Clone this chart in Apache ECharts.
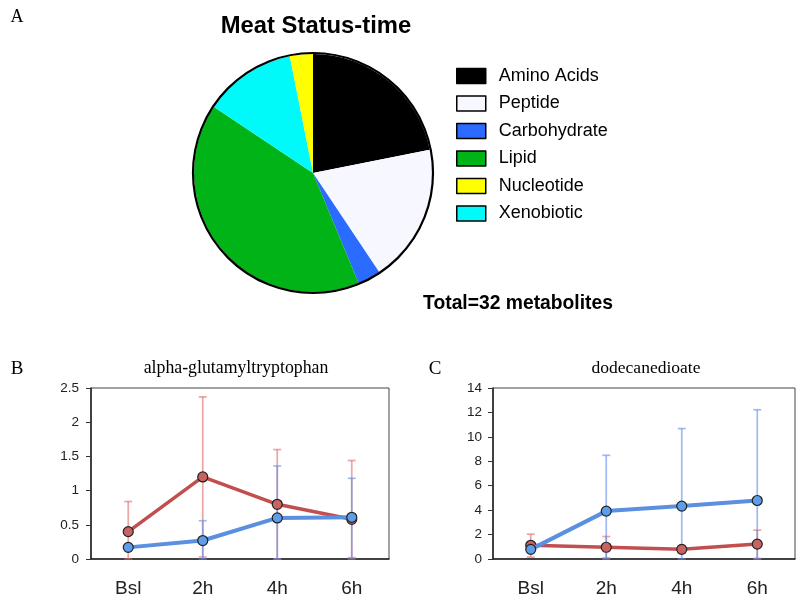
<!DOCTYPE html>
<html>
<head>
<meta charset="utf-8">
<script src="https://cdn.jsdelivr.net/npm/echarts@6/dist/echarts.min.js"></script>
<style>
html,body{margin:0;padding:0;background:#fff;}
#chart{width:800px;height:608px;}
</style>
</head>
<body>
<div id="chart"></div>
<script>
// ---- Data ----
var pieNames = ['Amino Acids', 'Peptide', 'Carbohydrate', 'Lipid', 'Xenobiotic', 'Nucleotide'];
var pieCounts = [7, 6, 1, 13, 4, 1];
var pieColors = ['#000000', '#f7f7ff', '#2b6bff', '#00b418', '#00fafa', '#ffff00'];
var legendOrder = ['Amino Acids', 'Peptide', 'Carbohydrate', 'Lipid', 'Nucleotide', 'Xenobiotic'];
var totalLabel = 'Total=32 metabolites';

var timepoints = ['Bsl', '2h', '4h', '6h'];

var bRed = [0.40, 1.20, 0.80, 0.58];
var bRedHigh = [0.84, 2.37, 1.60, 1.44];
var bRedLow = [0, 0.03, 0, 0];
var bBlue = [0.17, 0.27, 0.60, 0.61];
var bBlueHigh = [0.20, 0.56, 1.36, 1.18];
var bBlueLow = [0.13, 0, 0, 0.02];

var cRed = [1.12, 0.96, 0.79, 1.22];
var cRedHigh = [2.03, 1.84, 1.10, 2.36];
var cRedLow = [0.15, 0.09, 0.50, 0.05];
var cBlue = [0.79, 3.92, 4.33, 4.79];
var cBlueHigh = [1.00, 8.49, 10.68, 12.22];
var cBlueLow = [0.60, 0, 0, 0];

var bTicks = { min: 0, max: 2.5, interval: 0.5 };
var cTicks = { min: 0, max: 14, interval: 2 };

// ---- Chart ----
var RED_LINE = '#c24f4f', RED_FILL = '#c96262', RED_ERR = 'rgba(220,105,105,0.6)';
var BLUE_LINE = '#5b8fe0', BLUE_FILL = '#5e9de8', BLUE_ERR = 'rgba(95,140,235,0.6)';

function errData(low, high) {
  return low.map(function (l, i) { return [i, l, high[i]]; });
}
function errSeries(gi, low, high, color) {
  return {
    type: 'custom', xAxisIndex: gi, yAxisIndex: gi, silent: true, z: 1,
    data: errData(low, high),
    encode: { x: 0, y: [1, 2] },
    renderItem: function (params, api) {
      var lo = api.coord([api.value(0), api.value(1)]);
      var hi = api.coord([api.value(0), api.value(2)]);
      var w = 4;
      var st = { stroke: color, lineWidth: 1.7 };
      return {
        type: 'group',
        children: [
          { type: 'line', shape: { x1: hi[0], y1: hi[1], x2: lo[0], y2: lo[1] }, style: st },
          { type: 'line', shape: { x1: hi[0] - w, y1: hi[1], x2: hi[0] + w, y2: hi[1] }, style: st },
          { type: 'line', shape: { x1: lo[0] - w, y1: lo[1], x2: lo[0] + w, y2: lo[1] }, style: st }
        ]
      };
    }
  };
}
function lineSeries(gi, data, lineColor, fillColor, w, z) {
  return {
    type: 'line', xAxisIndex: gi, yAxisIndex: gi, data: data, z: z,
    symbol: 'circle', symbolSize: 10,
    lineStyle: { color: lineColor, width: w },
    itemStyle: { color: fillColor, borderColor: '#222', borderWidth: 1.2 },
    emphasis: { disabled: true }, animation: false
  };
}
function xAxis(gi) {
  return {
    type: 'category', gridIndex: gi, data: timepoints, boundaryGap: true,
    axisLine: { lineStyle: { color: '#222', width: 1.5 } },
    axisTick: { alignWithLabel: true, length: 5, lineStyle: { color: '#333' } },
    axisLabel: { fontFamily: 'Liberation Sans', fontSize: 19, color: '#222', margin: 20 },
    splitLine: { show: false }
  };
}
function yAxis(gi, t, margin) {
  return {
    type: 'value', gridIndex: gi, min: t.min, max: t.max, interval: t.interval,
    axisLine: { show: true, lineStyle: { color: '#222', width: 1.5 } },
    axisTick: { show: true, length: 5, lineStyle: { color: '#333' } },
    axisLabel: { fontFamily: 'Liberation Sans', fontSize: 13.5, color: '#222', margin: margin },
    splitLine: { show: false }
  };
}
function txt(x, y, text, font, size, weight) {
  return {
    type: 'text', x: x, y: y, silent: true,
    style: { text: text, fontFamily: font, fontSize: size, fontWeight: weight || 'normal',
             fill: '#000', align: 'center', verticalAlign: 'middle' }
  };
}

var chart = echarts.init(document.getElementById('chart'), null, { renderer: 'canvas' });
chart.setOption({
  animation: false,
  backgroundColor: '#fff',
  legend: {
    data: legendOrder, orient: 'vertical', left: 456, top: 67, padding: 0,
    itemWidth: 29, itemHeight: 15, itemGap: 9.5, selectedMode: false,
    icon: 'rect',
    itemStyle: { borderColor: '#000', borderWidth: 1.5 },
    textStyle: { fontFamily: 'Liberation Sans', fontSize: 18, color: '#000', padding: [0, 0, 0, 8] }
  },
  grid: [
    { left: 91, top: 388, width: 298, height: 171, show: true, borderColor: '#444', borderWidth: 1 },
    { left: 493, top: 388, width: 302, height: 171, show: true, borderColor: '#444', borderWidth: 1 }
  ],
  xAxis: [xAxis(0), xAxis(1)],
  yAxis: [yAxis(0, bTicks, 12), yAxis(1, cTicks, 11)],
  graphic: [
    txt(17, 17, 'A', 'Liberation Serif', 18),
    txt(316, 26, 'Meat Status-time', 'Liberation Sans', 23.8, 'bold'),
    txt(518, 304, totalLabel, 'Liberation Sans', 19.3, 'bold'),
    txt(17, 369, 'B', 'Liberation Serif', 19),
    txt(236, 368, 'alpha-glutamyltryptophan', 'Liberation Serif', 17.8),
    txt(435, 369, 'C', 'Liberation Serif', 19),
    txt(646, 368, 'dodecanedioate', 'Liberation Serif', 17.5)
  ],
  series: [
    {
      type: 'pie', center: [313, 173], radius: 119, startAngle: 90, clockwise: true,
      silent: true, label: { show: false }, labelLine: { show: false },
      itemStyle: { borderWidth: 0 },
      data: pieNames.map(function (n, i) {
        return { name: n, value: pieCounts[i], itemStyle: { color: pieColors[i] } };
      })
    },
    {
      type: 'pie', center: [313, 173], radius: 120, silent: true, z: 3,
      label: { show: false }, labelLine: { show: false },
      itemStyle: { color: 'rgba(0,0,0,0)', borderColor: '#000', borderWidth: 2.2 },
      data: [{ name: '__outline', value: pieCounts.reduce(function (a, b) { return a + b; }, 0) }]
    },
    errSeries(0, bRedLow, bRedHigh, RED_ERR),
    errSeries(0, bBlueLow, bBlueHigh, BLUE_ERR),
    lineSeries(0, bRed, RED_LINE, RED_FILL, 3.5, 3),
    lineSeries(0, bBlue, BLUE_LINE, BLUE_FILL, 4, 4),
    errSeries(1, cRedLow, cRedHigh, RED_ERR),
    errSeries(1, cBlueLow, cBlueHigh, BLUE_ERR),
    lineSeries(1, cRed, RED_LINE, RED_FILL, 3.5, 3),
    lineSeries(1, cBlue, BLUE_LINE, BLUE_FILL, 4, 4)
  ]
});
</script>
</body>
</html>
